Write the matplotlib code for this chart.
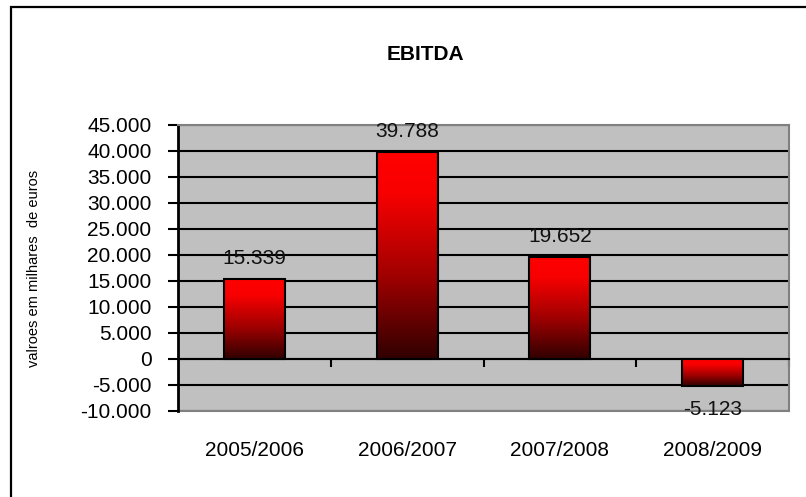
import matplotlib
matplotlib.use('Agg')
import matplotlib.pyplot as plt
import numpy as np
from matplotlib.colors import LinearSegmentedColormap
from matplotlib.ticker import FuncFormatter
from matplotlib.patches import Rectangle
import matplotlib.transforms as mtransforms

plt.rcParams['font.family'] = ['Liberation Sans', 'DejaVu Sans']

# DATA
periods = ['2005/2006', '2006/2007', '2007/2008', '2008/2009']
ebitda = [15339, 39788, 19652, -5123]
value_labels = ['15.339', '39.788', '19.652', '-5.123']
y_ticks = [-10000, -5000, 0, 5000, 10000, 15000, 20000, 25000, 30000, 35000, 40000, 45000]

W, H = 806, 497
fig = plt.figure(figsize=(W / 100, H / 100), dpi=100)
ax = fig.add_axes([178 / W, 1 - 411 / H, 611 / W, 286 / H])
ax.set_facecolor('#C0C0C0')

# red -> dark red gradient, like the old excel fill
red_fade = LinearSegmentedColormap.from_list(
    'red_fade', [(0, '#FF0000'), (0.2, '#F80000'), (0.6, '#A00000'), (1, '#300000')])
grad = np.linspace(0, 1, 256).reshape(-1, 1)

x = np.arange(len(periods))
bars = ax.bar(x, ebitda, width=0.4, facecolor='none', edgecolor='black', linewidth=1.5, zorder=3)
for b in bars:
    x0, x1 = b.get_x(), b.get_x() + b.get_width()
    y0 = min(b.get_y(), b.get_y() + b.get_height())
    y1 = max(b.get_y(), b.get_y() + b.get_height())
    im = ax.imshow(grad, cmap=red_fade, extent=[x0, x1, y0, y1], origin='upper',
                   aspect='auto', zorder=2.8, interpolation='bilinear')
    im.set_clip_path(b)

ax.set_xlim(-0.5, len(periods) - 0.5)
ax.set_ylim(-10000, 45000)
ax.set_yticks(y_ticks)
ax.yaxis.set_major_formatter(FuncFormatter(lambda v, p: f'{v:,.0f}'.replace(',', '.')))
ax.yaxis.grid(True, color='black', linewidth=1.5)
ax.set_axisbelow(True)
ax.tick_params(axis='y', direction='out', length=7, width=1.5, pad=12, labelsize=15)

# x axis sits at zero, ticks between the categories
ax.spines['bottom'].set_position(('data', 0))
ax.spines['bottom'].set_linewidth(1.5)
ax.set_xticks(x + 0.5)
ax.set_xticklabels([])
ax.tick_params(axis='x', direction='out', length=6, width=1.5)

ax.spines['left'].set_linewidth(2)
for s in ['top', 'right']:
    ax.spines[s].set_color('#808080')
    ax.spines[s].set_linewidth(1.5)
ax.add_patch(Rectangle((0, 0), 1, 0, transform=ax.transAxes, fill=False,
                       edgecolor='#808080', linewidth=1.5, clip_on=False, zorder=2))

# value labels
for xi, v, lab in zip(x, ebitda, value_labels):
    if v >= 0:
        ax.annotate(lab, (xi, v), xytext=(0, 11), textcoords='offset points',
                    ha='center', va='baseline', fontsize=15, color='#111111', zorder=4)
    else:
        ax.annotate(lab, (xi, v), xytext=(0, -10), textcoords='offset points',
                    ha='center', va='top', fontsize=15, color='#111111', zorder=4)

# category labels below the plot
tr = mtransforms.blended_transform_factory(ax.transData, fig.transFigure)
for xi, p in zip(x, periods):
    ax.text(xi, 1 - 450 / H, p, transform=tr, ha='center', va='center', fontsize=15)

fig.text(425 / W, 1 - 55 / H, 'EBITDA', ha='center', va='center', fontsize=15, fontweight='bold')
fig.text(34 / W, 1 - 268 / H, 'valroes em milhares  de euros', rotation=90,
         ha='center', va='center', fontsize=10.5)

# chart border, running off the right and bottom edges
fig.add_artist(Rectangle((11 / W, -0.1), 1.2, 1 - 7 / H + 0.1, transform=fig.transFigure,
                         fill=False, edgecolor='black', linewidth=1.6))

fig.savefig('out.png', dpi=100)
